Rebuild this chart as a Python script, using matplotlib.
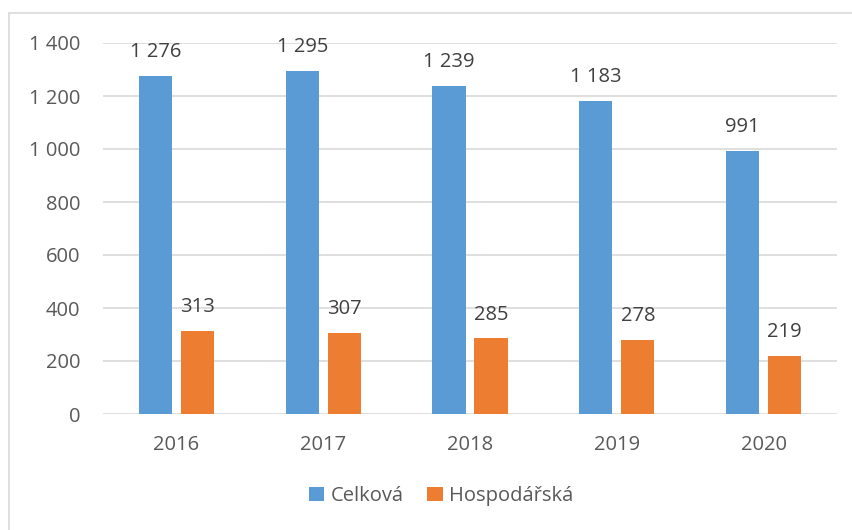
import numpy as np
import matplotlib.pyplot as plt
from matplotlib.patches import Rectangle

roky = ['2016', '2017', '2018', '2019', '2020']
celkova = [1276, 1295, 1239, 1183, 991]
hospodarska = [313, 307, 285, 278, 219]

plt.rcParams['font.family'] = ['Open Sans', 'DejaVu Sans']
fs = 14.5

fig = plt.figure(figsize=(8.53, 5.30), dpi=100)
ax = fig.add_axes([103/853, 1 - 414/530, (837-103)/853, (414-43)/530])

# frame of the chart area (top and left visible)
fig.patches.append(Rectangle((9/853, -0.1), 2, 1 - 13/530 + 0.1, transform=fig.transFigure,
                             fill=False, edgecolor='#d9d9d9', lw=1.2))

x = np.arange(len(roky))
w = 0.225
off = 0.143
b1 = ax.bar(x - off, celkova, w, color='#5b9bd5', label='Celková', zorder=3)
b2 = ax.bar(x + off, hospodarska, w, color='#ed7d31', label='Hospodářská', zorder=3)

for bars, vals in ((b1, celkova), (b2, hospodarska)):
    for b, v in zip(bars, vals):
        txt = f'{v:,}'.replace(',', ' ')
        ax.annotate(txt, (b.get_x() + b.get_width()/2, v), xytext=(0, 10),
                    textcoords='offset points', ha='center', va='bottom',
                    fontsize=fs, color='#404040')

ax.set_xlim(-0.5, 4.5)
ax.set_ylim(0, 1400)
ax.set_yticks(range(0, 1401, 200))
ax.set_yticklabels([f'{t:,}'.replace(',', ' ') for t in range(0, 1401, 200)])
ax.set_xticks(x)
ax.set_xticklabels(roky)
ax.tick_params(length=0, labelsize=fs, colors='#595959', pad=15)
ax.tick_params(axis='y', pad=16.5)
ax.grid(axis='y', color='#d9d9d9', lw=1.2, zorder=0)
for s in ax.spines.values():
    s.set_visible(False)

fig.legend(loc='center', bbox_to_anchor=(441/853, 1 - 496/530), ncol=2, frameon=False,
           fontsize=fs, labelcolor='#595959', handlelength=0.75, handleheight=0.75,
           handletextpad=0.3, columnspacing=1.2)

fig.savefig('out.png', dpi=100)
